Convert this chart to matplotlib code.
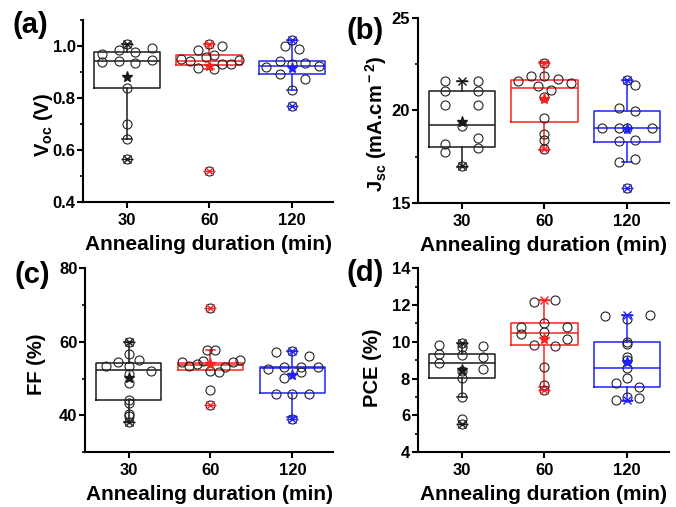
import numpy as np
import matplotlib.pyplot as plt
from matplotlib.ticker import MultipleLocator

plt.rcParams['font.family'] = ['Liberation Sans', 'DejaVu Sans']
plt.rcParams['font.weight'] = 'bold'
plt.rcParams['mathtext.fontset'] = 'custom'
plt.rcParams['mathtext.rm'] = 'Liberation Sans:bold'
plt.rcParams['mathtext.it'] = 'Liberation Sans:bold'
plt.rcParams['mathtext.bf'] = 'Liberation Sans:bold'

durations = ['30', '60', '120']
colors = ['#1a1a1a', '#ff2020', '#2020ff']

# ---- (a) Voc ----
voc_q1 = [0.837, 0.926, 0.892]
voc_med = [0.941, 0.942, 0.923]
voc_q3 = [0.975, 0.964, 0.941]
voc_mean = [0.879, 0.921, 0.915]
voc_wlo = [0.640, 0.912, 0.831]
voc_whi = [1.007, 1.007, 1.021]
voc_pts = [
    [0.968, 0.939, 0.985, 0.941, 1.007, 0.975, 0.933, 0.990, 0.945, 0.838, 0.698, 0.640, 0.565],
    [0.951, 0.941, 0.982, 0.914, 0.957, 0.966, 0.912, 0.998, 0.928, 0.928, 0.946, 1.007, 0.518],
    [0.918, 0.942, 0.892, 1.000, 0.930, 0.831, 0.987, 0.933, 0.872, 0.921, 1.021, 0.769],
]
voc_dx = [
    [-0.30, -0.30, -0.10, -0.10, 0, 0.10, 0.10, 0.30, 0.30, 0, 0, 0, 0],
    [-0.34, -0.24, -0.14, -0.14, -0.04, 0.05, 0.05, 0.15, 0.15, 0.26, 0.36, 0, 0],
    [-0.32, -0.15, -0.15, -0.08, 0, 0, 0.09, 0.16, 0.16, 0.33, 0, 0],
]

# ---- (b) Jsc ----
jsc_q1 = [18.02, 19.36, 18.27]
jsc_med = [19.18, 21.18, 19.03]
jsc_q3 = [21.06, 21.65, 19.97]
jsc_mean = [19.34, 20.61, 19.01]
jsc_wlo = [16.95, 17.86, 17.22]
jsc_whi = [21.60, 22.60, 21.64]
jsc_pts = [
    [21.56, 21.06, 20.26, 18.18, 17.77, 21.56, 21.06, 20.26, 18.49, 17.97, 19.16, 17.00],
    [21.58, 21.87, 21.87, 22.56, 21.69, 21.47, 21.29, 21.11, 20.71, 19.58, 18.71, 18.40, 17.89],
    [19.03, 20.12, 19.03, 18.35, 17.22, 21.64, 21.38, 19.94, 18.40, 17.37, 19.03, 19.03, 15.78],
]
jsc_dx = [
    [-0.2, -0.2, -0.2, -0.2, -0.2, 0.2, 0.2, 0.2, 0.2, 0.2, 0, 0],
    [-0.32, -0.16, 0, 0, 0.16, 0.32, -0.08, 0.08, 0, 0, 0, 0, 0],
    [-0.30, -0.10, -0.10, -0.10, -0.10, 0, 0.10, 0.10, 0.10, 0.10, 0.30, 0, 0],
]

# ---- (c) FF ----
ff_q1 = [44.27, 52.27, 46.10]
ff_med = [52.27, 53.80, 53.00]
ff_q3 = [54.36, 54.36, 53.20]
ff_mean = [50.18, 54.10, 50.90]
ff_wlo = [38.2, 52.27, 39.5]
ff_whi = [60.0, 57.9, 57.45]
ff_pts = [
    [53.36, 54.45, 53.36, 56.6, 51.36, 48.9, 44.27, 43.36, 40.27, 39.8, 60.0, 38.2, 55.0, 52.09],
    [54.5, 53.5, 54.1, 54.7, 57.9, 57.9, 46.8, 52.1, 51.8, 53.2, 54.5, 55.0, 69.1, 42.7],
    [52.7, 57.2, 45.9, 53.2, 50.3, 45.7, 39.1, 53.2, 51.8, 56.1, 45.7, 53.2, 57.45],
]
ff_dx = [
    [-0.27, -0.13, 0, 0, 0, 0, 0, 0, 0, 0, 0, 0, 0.13, 0.27],
    [-0.35, -0.26, -0.17, -0.09, -0.04, 0.05, 0, 0, 0.10, 0.18, 0.27, 0.36, 0, 0],
    [-0.30, -0.20, -0.20, -0.10, -0.10, 0, 0, 0.11, 0.11, 0.20, 0.20, 0.31, 0],
]

# ---- (d) PCE ----
pce_q1 = [8.05, 9.84, 7.56]
pce_med = [8.85, 10.47, 8.60]
pce_q3 = [9.36, 11.00, 10.00]
pce_mean = [8.49, 10.18, 8.91]
pce_wlo = [7.00, 7.55, 6.78]
pce_whi = [9.96, 12.25, 11.45]
pce_pts = [
    [9.82, 9.36, 8.85, 9.73, 9.29, 8.42, 8.04, 7.00, 5.82, 5.55, 9.96, 9.76, 9.18, 8.51],
    [10.82, 10.42, 12.15, 9.84, 11.04, 10.53, 8.64, 7.65, 7.40, 12.27, 9.80, 10.82, 10.13],
    [11.40, 7.78, 6.82, 11.22, 10.00, 9.90, 9.15, 9.00, 8.60, 8.04, 7.00, 7.55, 6.95, 11.45],
]
pce_dx = [
    [-0.27, -0.27, -0.27, 0, 0, 0, 0, 0, 0, 0, 0, 0.26, 0.26, 0.26],
    [-0.28, -0.28, -0.13, -0.13, 0, 0, 0, 0, 0, 0.13, 0.13, 0.27, 0.27],
    [-0.27, -0.14, -0.14, 0, 0, 0, 0, 0, 0, 0, 0, 0.14, 0.14, 0.27],
]


def draw_panel(ax, q1, med, q3, mean, wlo, whi, pts, dx, ylim, major, minor,
               ylabel, label_xy, tag, tag_xy):
    for i in range(3):
        c = colors[i]
        pos = i + 1
        stats = [dict(med=med[i], q1=q1[i], q3=q3[i], whislo=wlo[i], whishi=whi[i], fliers=[])]
        ax.bxp(stats, positions=[pos], widths=0.8, capwidths=0.12, showfliers=False,
               boxprops=dict(color=c, lw=1.1), medianprops=dict(color=c, lw=1.1),
               whiskerprops=dict(color=c, lw=1.1), capprops=dict(color=c, lw=1.1))
        x = pos + np.array(dx[i])
        y = np.array(pts[i])
        ax.plot(x, y, 'o', ms=6.5, mfc='none', mec='#222222', mew=0.8, zorder=4)
        ax.plot([pos, pos], [y.min(), y.max()], 'x', ms=6, color=c, mew=1.0, zorder=5, ls='none')
        ax.plot([pos, pos], [y.min(), y.max()], '_', ms=8, color=c, mew=1.0, zorder=5, ls='none')
        ax.plot([pos], [mean[i]], '*', ms=8, color=c, zorder=6)
    ax.set_xlim(0.47, 3.5)
    ax.set_ylim(*ylim)
    ax.set_xticks([1, 2, 3])
    ax.set_xticklabels(durations)
    ax.yaxis.set_major_locator(MultipleLocator(major))
    ax.yaxis.set_minor_locator(MultipleLocator(minor))
    for s in ['top', 'right']:
        ax.spines[s].set_visible(False)
    for s in ['left', 'bottom']:
        ax.spines[s].set_linewidth(1.5)
    ax.tick_params(which='major', length=4, width=1.5, labelsize=12, pad=1.5, direction='out')
    ax.tick_params(axis='x', which='major', pad=4)
    ax.tick_params(which='minor', length=2.5, width=1.2, direction='out')
    ax.set_xlabel('Annealing duration (min)', fontsize=15, fontweight='bold', labelpad=5)
    ax.set_ylabel(ylabel, fontsize=14.5, fontweight='bold', va='center')
    ax.yaxis.set_label_coords(*label_xy)
    ax.text(tag_xy[0], tag_xy[1], tag, transform=ax.transAxes, fontsize=21, fontweight='bold',
            ha='center', va='center')


fig = plt.figure(figsize=(6.76, 5.07), dpi=100)
ax_a = fig.add_axes([0.123, 0.602, 0.370, 0.359])
ax_b = fig.add_axes([0.618, 0.600, 0.371, 0.365])
ax_c = fig.add_axes([0.126, 0.108, 0.367, 0.363])
ax_d = fig.add_axes([0.618, 0.108, 0.371, 0.363])

draw_panel(ax_a, voc_q1, voc_med, voc_q3, voc_mean, voc_wlo, voc_whi, voc_pts, voc_dx,
           (0.4, 1.1), 0.2, 0.1, r'V$_{\rm oc}$ (V)', (-0.16, 0.42), '(a)', (-0.212, 0.97))
draw_panel(ax_b, jsc_q1, jsc_med, jsc_q3, jsc_mean, jsc_wlo, jsc_whi, jsc_pts, jsc_dx,
           (15, 25), 5, 2.5, r'J$_{\rm sc}$ (mA.cm$^{\rm -2}$)', (-0.167, 0.43), '(b)', (-0.21, 0.93))
draw_panel(ax_c, ff_q1, ff_med, ff_q3, ff_mean, ff_wlo, ff_whi, ff_pts, ff_dx,
           (30, 80), 20, 10, 'FF (%)', (-0.198, 0.48), '(c)', (-0.214, 0.962))
draw_panel(ax_d, pce_q1, pce_med, pce_q3, pce_mean, pce_wlo, pce_whi, pce_pts, pce_dx,
           (4, 14), 2, 1, 'PCE (%)', (-0.18, 0.46), '(d)', (-0.21, 0.973))

ax_c.set_yticks([40, 60, 80])

fig.savefig('out.png', dpi=100)
